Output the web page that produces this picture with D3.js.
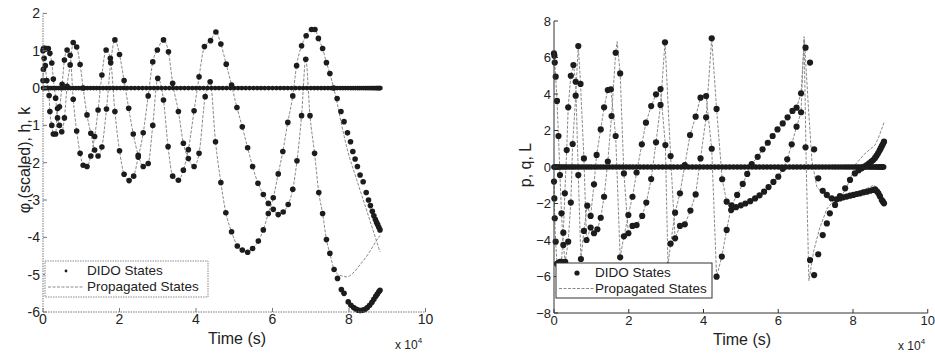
<!DOCTYPE html>
<html><head><meta charset="utf-8">
<script src="https://cdn.jsdelivr.net/npm/d3@7"></script>
<style>body{margin:0;background:#fff}svg text{font-family:"Liberation Sans",Arial,sans-serif;fill:#222}</style>
</head><body><svg id="c" width="935" height="356"></svg>
<script>
// ---------- DATA (time in units of 1e4 s) ----------
const xTicks = [0, 2, 4, 6, 8, 10];
const leftYTicks = [2, 1, 0, -1, -2, -3, -4, -5, -6];
const rightYTicks = [8, 6, 4, 2, 0, -2, -4, -6, -8];
const legendLabels = ["DIDO States", "Propagated States"];

// node times of the state that stays at zero
const zeroTimes = [0,0.01,0.03,0.05,0.08,0.11,0.15,0.19,0.24,0.29,0.34,0.4,0.46,0.52,0.58,0.65,0.72,0.79,0.86,0.93,1.0,1.08,1.16,1.24,1.32,1.4,1.48,1.57,1.66,1.75,1.84,1.93,2.02,2.11,2.2,2.3,2.4,2.5,2.6,2.7,2.8,2.9,3.0,3.1,3.2,3.3,3.4,3.5,3.6,3.7,3.8,3.9,4.0,4.1,4.2,4.3,4.4,4.5,4.6,4.7,4.8,4.9,5.0,5.1,5.2,5.3,5.4,5.5,5.6,5.7,5.8,5.9,6.0,6.1,6.2,6.3,6.4,6.5,6.6,6.7,6.8,6.9,7.0,7.09,7.18,7.27,7.36,7.45,7.53,7.61,7.69,7.77,7.84,7.91,7.98,8.05,8.11,8.17,8.23,8.28,8.33,8.38,8.43,8.47,8.51,8.55,8.59,8.62,8.65,8.68,8.71,8.73,8.75,8.77,8.79,8.8,8.82];
const zeroValues = zeroTimes.map(() => 0);

// Left panel: phi (scaled), h, k
const leftA = [[0.00,1.00],[0.01,1.05],[0.03,1.07],[0.06,1.04],[0.10,1.06],[0.14,1.06],[0.18,0.93],[0.23,0.67],[0.27,0.24],[0.33,-0.27],[0.38,-0.80],[0.43,-1.00],[0.49,-1.17],[0.56,-0.80],[0.63,0.05],[0.71,0.62],[0.79,1.22],[0.88,1.10],[0.97,0.63],[1.05,0.00],[1.15,-0.72],[1.25,-1.21],[1.35,-1.66],[1.44,-1.82],[1.54,-1.58],[1.66,-0.56],[1.77,0.68],[1.88,1.29],[2.00,0.90],[2.12,0.20],[2.24,-0.54],[2.36,-1.23],[2.49,-1.80],[2.62,-2.10],[2.75,-2.02],[2.87,-1.00],[3.00,0.26],[3.15,-0.32],[3.27,-1.57],[3.39,-2.36],[3.54,-2.47],[3.67,-2.20],[3.80,-1.65],[3.95,-0.61],[4.08,0.30],[4.22,1.11],[4.38,1.27],[4.52,1.50],[4.65,1.18],[4.79,0.64],[4.93,0.08],[5.07,-0.52],[5.21,-1.04],[5.35,-1.60],[5.48,-2.10],[5.62,-2.55],[5.76,-2.85],[5.89,-3.09],[6.02,-3.25],[6.15,-3.39],[6.28,-3.32],[6.41,-3.12],[6.53,-2.71],[6.64,-1.95],[6.76,-0.74],[6.87,0.77],[6.98,-0.74],[7.10,-1.75],[7.21,-2.80],[7.31,-3.36],[7.41,-4.06],[7.50,-4.43],[7.61,-4.86],[7.70,-5.10],[7.80,-5.40],[7.87,-5.50],[7.98,-5.73],[8.05,-5.82],[8.12,-5.88],[8.18,-5.92],[8.24,-5.95],[8.30,-5.96],[8.36,-5.95],[8.42,-5.93],[8.48,-5.88],[8.54,-5.82],[8.60,-5.74],[8.65,-5.66],[8.70,-5.58],[8.74,-5.52],[8.78,-5.46],[8.81,-5.42]];
const leftB = [[0.00,0.20],[0.01,0.50],[0.03,0.80],[0.06,0.60],[0.10,0.20],[0.16,-0.20],[0.18,-0.63],[0.23,-1.00],[0.27,-1.23],[0.33,-1.23],[0.38,-0.55],[0.43,-0.50],[0.50,0.10],[0.56,0.75],[0.63,1.02],[0.71,0.88],[0.79,-0.30],[0.88,-1.15],[0.97,-1.75],[1.05,-2.07],[1.15,-2.10],[1.25,-1.82],[1.35,-1.30],[1.44,-0.59],[1.54,0.35],[1.65,1.02],[1.76,0.80],[1.88,-0.63],[2.00,-1.68],[2.12,-2.31],[2.25,-2.48],[2.37,-2.36],[2.49,-1.85],[2.62,-1.20],[2.75,-0.21],[2.87,0.70],[2.99,1.02],[3.15,1.29],[3.28,0.97],[3.39,0.13],[3.54,-0.63],[3.67,-1.48],[3.80,-1.89],[3.95,-2.10],[4.08,-1.75],[4.24,-0.23],[4.37,0.17],[4.51,-1.44],[4.65,-2.53],[4.78,-3.34],[4.93,-3.85],[5.08,-4.23],[5.21,-4.34],[5.35,-4.40],[5.48,-4.30],[5.63,-4.10],[5.76,-3.80],[5.89,-3.36],[6.02,-2.94],[6.15,-2.30],[6.27,-1.70],[6.40,-0.92],[6.53,-0.21],[6.63,0.60],[6.76,1.13],[6.88,1.40],[7.02,1.57],[7.11,1.57],[7.20,1.33],[7.31,1.06],[7.41,0.68],[7.50,0.39],[7.60,0.00],[7.69,-0.28],[7.79,-0.63],[7.87,-0.90],[7.96,-1.20],[8.04,-1.44],[8.10,-1.70],[8.16,-1.90],[8.22,-2.10],[8.29,-2.33],[8.37,-2.51],[8.45,-2.80],[8.51,-3.00],[8.56,-3.15],[8.61,-3.30],[8.65,-3.42],[8.69,-3.52],[8.72,-3.60],[8.75,-3.66],[8.78,-3.73],[8.81,-3.80]];
// propagated trajectories where they leave the DIDO nodes
const leftAPropTail = [[7.70,-4.98],[7.80,-5.03],[7.94,-5.06],[8.10,-4.96],[8.30,-4.72],[8.50,-4.45],[8.68,-4.15],[8.81,-3.95]];
const leftBPropTail = [[7.69,-0.40],[7.80,-0.95],[7.96,-1.66],[8.20,-2.45],[8.50,-3.40],[8.81,-4.39]];
const leftPropCut = 7.65;

// Right panel: p, q, L
const rightP = [[0.000,6.23],[0.010,6.10],[0.020,5.72],[0.045,4.95],[0.080,3.62],[0.120,1.70],[0.160,-0.44],[0.200,-2.54],[0.250,-4.27],[0.300,-5.20],[0.380,-4.09],[0.450,-1.95],[0.500,1.26],[0.580,3.91],[0.650,6.63],[0.710,4.55],[0.800,0.47],[0.870,-4.00],[0.980,-3.32],[1.070,-3.63],[1.160,-3.41],[1.250,-2.78],[1.340,-1.63],[1.440,0.30],[1.540,2.79],[1.650,6.26],[1.770,5.13],[1.870,-0.35],[1.990,-3.63],[2.100,-3.23],[2.210,-3.18],[2.360,-2.68],[2.470,-1.95],[2.600,-0.66],[2.730,1.35],[2.850,3.40],[2.970,6.83],[3.120,0.60],[3.240,-3.91],[3.370,-3.23],[3.500,-3.14],[3.650,-2.39],[3.790,-1.50],[3.920,0.47],[4.070,2.72],[4.220,7.05],[4.350,3.18],[4.500,-0.67],[4.620,-1.90],[4.740,-2.36],[4.870,-2.20],[5.000,-2.10],[5.120,-2.00],[5.250,-1.87],[5.380,-1.72],[5.500,-1.55],[5.620,-1.35],[5.740,-1.10],[5.870,-0.82],[6.000,-0.53],[6.120,-0.10],[6.240,0.42],[6.360,1.24],[6.490,2.21],[6.610,3.00],[6.730,1.08],[6.850,-5.10],[6.960,-5.92],[7.070,-4.78],[7.190,-3.73],[7.300,-3.09],[7.380,-2.54],[7.520,-2.08],[7.650,-1.60],[7.790,-1.17],[7.920,-0.71],[8.050,-0.35],[8.150,-0.18],[8.230,-0.07],[8.300,0.02],[8.370,0.10],[8.430,0.20],[8.490,0.30],[8.540,0.38],[8.590,0.50],[8.630,0.62],[8.670,0.75],[8.710,0.90],[8.740,1.02],[8.770,1.14],[8.800,1.26],[8.830,1.39]];
const rightQ = [[0.000,-0.80],[0.010,-1.72],[0.020,-2.81],[0.045,-4.09],[0.080,-5.30],[0.120,-5.25],[0.160,-5.20],[0.200,-5.20],[0.250,-3.60],[0.290,-1.44],[0.340,0.93],[0.380,3.27],[0.450,5.00],[0.520,5.59],[0.580,4.67],[0.650,-0.44],[0.720,-5.04],[0.800,-3.50],[0.890,-2.12],[0.980,-2.68],[1.070,-0.95],[1.140,0.66],[1.250,2.06],[1.340,3.27],[1.440,4.22],[1.520,4.26],[1.650,1.70],[1.770,-4.95],[1.870,-3.80],[1.990,-2.63],[2.100,-1.63],[2.210,-0.30],[2.350,1.24],[2.460,2.43],[2.600,3.34],[2.730,3.98],[2.850,4.27],[2.980,1.20],[3.050,-5.40],[3.120,-4.20],[3.240,-2.50],[3.370,-1.44],[3.500,0.10],[3.640,1.75],[3.790,2.76],[3.920,3.80],[4.070,3.89],[4.220,1.00],[4.350,-6.01],[4.490,-4.91],[4.620,-3.45],[4.750,-2.10],[4.900,-1.53],[5.050,-0.93],[5.170,-0.38],[5.290,0.16],[5.450,0.56],[5.580,0.97],[5.720,1.33],[5.850,1.70],[5.980,2.06],[6.120,2.39],[6.250,2.72],[6.380,3.07],[6.490,3.25],[6.610,4.04],[6.730,6.54],[6.850,5.72],[6.960,0.97],[7.070,-0.62],[7.190,-1.30],[7.300,-1.53],[7.430,-1.72],[7.560,-1.77],[7.650,-1.72],[7.740,-1.66],[7.830,-1.62],[7.920,-1.57],[8.010,-1.53],[8.100,-1.48],[8.190,-1.44],[8.280,-1.39],[8.370,-1.35],[8.460,-1.30],[8.530,-1.26],[8.590,-1.22],[8.640,-1.33],[8.680,-1.44],[8.720,-1.60],[8.770,-1.81],[8.800,-1.90],[8.830,-1.99]];
const rightPPropExtra = [[1.69,6.87]];
const rightPPropTail = [[6.69,7.14],[6.75,0.00],[6.82,-6.23],[6.95,-4.60],[7.10,-3.40],[7.30,-2.30],[7.50,-1.80],[7.74,-1.44],[7.90,-0.80],[8.05,0.10],[8.30,0.70],[8.59,1.20],[8.70,1.70],[8.83,2.43]];
const rightQPropTail = [[6.70,7.00],[6.80,3.50],[6.90,0.38],[7.03,-1.08],[7.30,-1.72],[7.60,-1.70],[8.00,-1.45],[8.30,-1.25],[8.56,-0.99],[8.65,-1.20],[8.83,-1.80]];
const rightPropCut = 6.65;

// ---------- DRAW ----------
const svg = d3.select("#c");

function buildProp(dots, extra, tail, cut) {
  return dots.filter(d => d[0] < cut).concat(extra).concat(tail).sort((a, b) => a[0] - b[0]);
}

function panel(cfg) {
  const g = svg.append("g");
  const x = d3.scaleLinear().domain([0, 10]).range(cfg.xr);
  const y = d3.scaleLinear().domain(cfg.yd).range(cfg.yr);
  const zero = zeroTimes.map((t, i) => [t, zeroValues[i]]);

  const line = d3.line().x(d => x(d[0])).y(d => y(d[1])).curve(cfg.curve);
  // propagated lines
  cfg.props.concat([zero]).forEach(p => {
    g.append("path").attr("d", line(p)).attr("fill", "none")
      .attr("stroke", "#8a8a8a").attr("stroke-width", 1).attr("stroke-dasharray", "3,1.5");
  });
  // dots
  [zero].concat(cfg.series).forEach((s, k) => {
    g.append("g").selectAll("circle").data(s).join("circle")
      .attr("cx", d => x(d[0])).attr("cy", d => y(d[1]))
      .attr("r", k === 0 ? cfg.r0 : cfg.r).attr("fill", "#1c1c1c");
  });

  // axes
  const ax = g.append("g").attr("stroke", cfg.axisColor).attr("stroke-width", 1).attr("fill", "none");
  if (cfg.axisDash) ax.attr("stroke-dasharray", cfg.axisDash);
  ax.append("line").attr("x1", x(0)).attr("x2", x(0)).attr("y1", y(cfg.yd[0])).attr("y2", y(cfg.yd[1]));
  ax.append("line").attr("x1", x(0)).attr("x2", x(10)).attr("y1", y(cfg.yd[0])).attr("y2", y(cfg.yd[0]));
  const tk = g.append("g").attr("stroke", cfg.axisColor).attr("stroke-width", 1);
  xTicks.forEach(t => tk.append("line").attr("x1", x(t)).attr("x2", x(t)).attr("y1", y(cfg.yd[0])).attr("y2", y(cfg.yd[0]) - 4));
  cfg.yTicks.forEach(v => tk.append("line").attr("x1", x(0)).attr("x2", x(0) + 4).attr("y1", y(v)).attr("y2", y(v)));

  // tick labels
  xTicks.forEach(t => g.append("text").attr("x", x(t)).attr("y", y(cfg.yd[0]) + cfg.xLabDy)
    .attr("text-anchor", "middle").attr("font-size", cfg.tickFs).text(t));
  cfg.yTicks.forEach(v => g.append("text").attr("x", x(0) - cfg.yLabDx).attr("y", y(v))
    .attr("dy", "0.35em").attr("text-anchor", "end").attr("font-size", cfg.tickFs)
    .text(v < 0 ? cfg.minus + Math.abs(v) : v));

  // titles
  g.append("text").attr("x", cfg.xTitle[0]).attr("y", cfg.xTitle[1]).attr("text-anchor", "middle")
    .attr("font-size", 16).text("Time (s)");
  g.append("text").attr("transform", `translate(${cfg.yTitle[0]},${cfg.yTitle[1]}) rotate(-90)`)
    .attr("text-anchor", "middle").attr("font-size", 16).text(cfg.yTitleText);
  const ex = g.append("text").attr("x", cfg.exp[0]).attr("y", cfg.exp[1]).attr("font-size", 12);
  ex.append("tspan").text("x 10");
  ex.append("tspan").attr("font-size", 8).attr("dy", -6).text("4");

  // legend
  const L = cfg.legend;
  const lg = g.append("g");
  lg.append("rect").attr("x", L.x).attr("y", L.y).attr("width", L.w).attr("height", L.h)
    .attr("fill", "#fff").attr("stroke", L.stroke).attr("stroke-width", 1)
    .attr("stroke-dasharray", L.dash || null);
  lg.append("circle").attr("cx", L.x + L.sym).attr("cy", L.y + L.row1).attr("r", L.dotR).attr("fill", "#1c1c1c");
  lg.append("line").attr("x1", L.x + 3).attr("x2", L.x + L.sym * 2 - 3)
    .attr("y1", L.y + L.row2).attr("y2", L.y + L.row2)
    .attr("stroke", "#8a8a8a").attr("stroke-dasharray", "3,1.5");
  lg.append("text").attr("x", L.x + L.tx).attr("y", L.y + L.row1).attr("dy", "0.33em")
    .attr("font-size", L.fs).text(legendLabels[0]);
  lg.append("text").attr("x", L.x + L.tx).attr("y", L.y + L.row2).attr("dy", "0.33em")
    .attr("font-size", L.fs).text(legendLabels[1]);
}

panel({
  xr: [43, 425.5], yd: [-6, 2], yr: [312, 13.4],
  yTicks: leftYTicks, minus: "-",
  curve: d3.curveMonotoneX,
  series: [leftA, leftB],
  props: [buildProp(leftA, [], leftAPropTail, leftPropCut), buildProp(leftB, [], leftBPropTail, leftPropCut)],
  r: 2.8, r0: 2.4,
  axisColor: "#777", axisDash: "1.5,1",
  tickFs: 14, xLabDy: 12, yLabDx: 3,
  xTitle: [237, 344], yTitle: [30, 160], yTitleText: "\u03C6 (scaled), h, k",
  exp: [395, 349],
  legend: {x: 45, y: 261, w: 163, h: 36, stroke: "#888", dash: "1.5,1", sym: 21, tx: 42, row1: 10, row2: 26, fs: 13.5, dotR: 1.4}
});

panel({
  xr: [554, 927.75], yd: [-8, 8], yr: [313, 21],
  yTicks: rightYTicks, minus: "\u2212",
  curve: d3.curveLinear,
  series: [rightP, rightQ],
  props: [buildProp(rightP, rightPPropExtra, rightPPropTail, rightPropCut), buildProp(rightQ, [], rightQPropTail, rightPropCut)],
  r: 3.1, r0: 2.8,
  axisColor: "#333", axisDash: null,
  tickFs: 13, xLabDy: 12, yLabDx: 3,
  xTitle: [742, 345], yTitle: [531, 165], yTitleText: "p, q, L",
  exp: [898, 350],
  legend: {x: 556, y: 263, w: 156, h: 35, stroke: "#333", sym: 21, tx: 39, row1: 10, row2: 25.5, fs: 13.5, dotR: 2.6}
});
</script></body></html>
